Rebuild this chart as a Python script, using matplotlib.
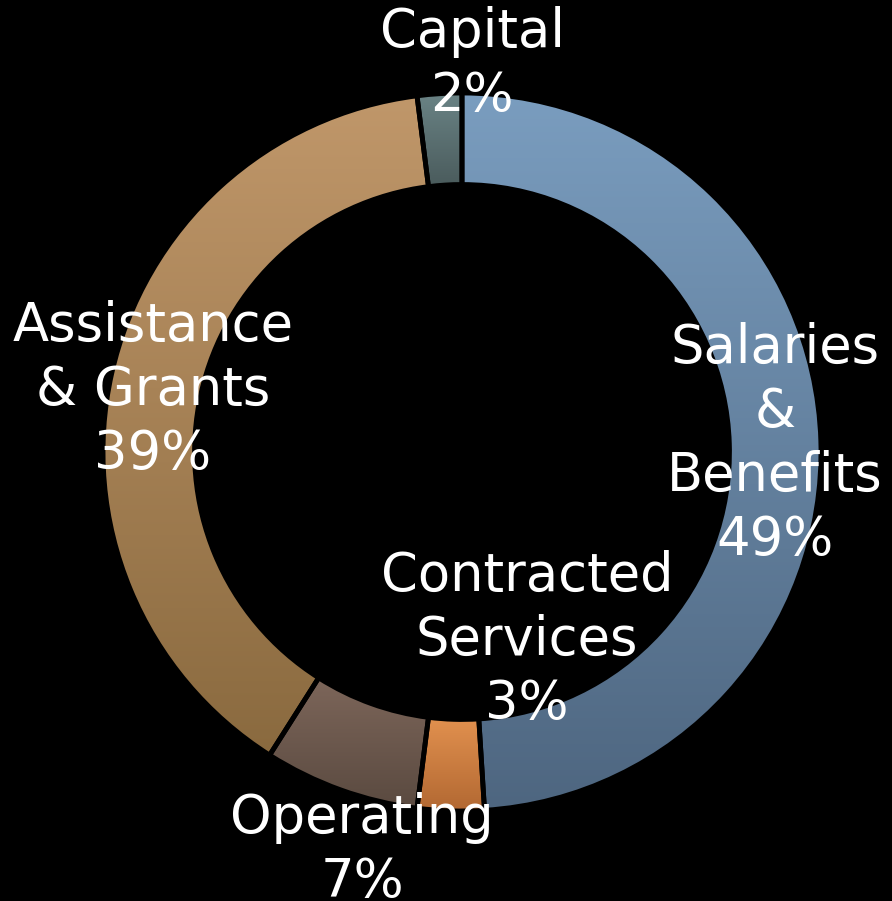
import numpy as np
import matplotlib
matplotlib.use("Agg")
import matplotlib.pyplot as plt
from matplotlib.colors import LinearSegmentedColormap

categories = ["Salaries\n&\nBenefits", "Contracted\nServices", "Operating", "Assistance\n& Grants", "Capital"]
values = [49, 3, 7, 39, 2]
top_colors = ["#7A9DBF", "#E2914F", "#7D665A", "#C0976A", "#6A8385"]
bottom_colors = ["#4E6680", "#B26832", "#5A4A40", "#8A6A3F", "#4A5B5C"]

W, H, DPI = 892, 901, 100
cx, cy, R = 462, 452, 359

fig = plt.figure(figsize=(W / DPI, H / DPI), dpi=DPI, facecolor="black")
ax = fig.add_axes([0, 0, 1, 1])
ax.set_facecolor("black")

wedges, _ = ax.pie(values, startangle=90, counterclock=False, radius=1.0,
                   wedgeprops=dict(width=0.255, edgecolor="black", linewidth=3.5, facecolor="none"))

for w, ct, cb in zip(wedges, top_colors, bottom_colors):
    ext = w.get_path().get_extents()
    cmap = LinearSegmentedColormap.from_list("g", [cb, ct])
    grad = np.linspace(0, 1, 256).reshape(-1, 1)
    im = ax.imshow(grad, cmap=cmap, origin="lower", aspect="auto",
                   extent=(ext.x0, ext.x1, ext.y0, ext.y1), zorder=1, interpolation="bilinear")
    im.set_clip_path(w)
    w.set_zorder(2)

ax.set_xlim(-cx / R, (W - cx) / R)
ax.set_ylim(-(H - cy) / R, cy / R)
ax.set_aspect("equal")
ax.axis("off")

def px(x, y):
    return (x - cx) / R, (cy - y) / R

labels = ["Salaries\n&\nBenefits\n49%", "Contracted\nServices\n3%", "Operating\n7%",
          "Assistance\n& Grants\n39%", "Capital\n2%"]
positions = [px(775, 444), px(527, 640), px(362, 850), px(153, 390), px(472, 64)]
for lab, (x, y) in zip(labels, positions):
    ax.text(x, y, lab, color="white", fontsize=38, ha="center", va="center",
            linespacing=1.3, family=["DejaVu Sans"], zorder=5)

fig.savefig("out.png", dpi=DPI, facecolor="black")
